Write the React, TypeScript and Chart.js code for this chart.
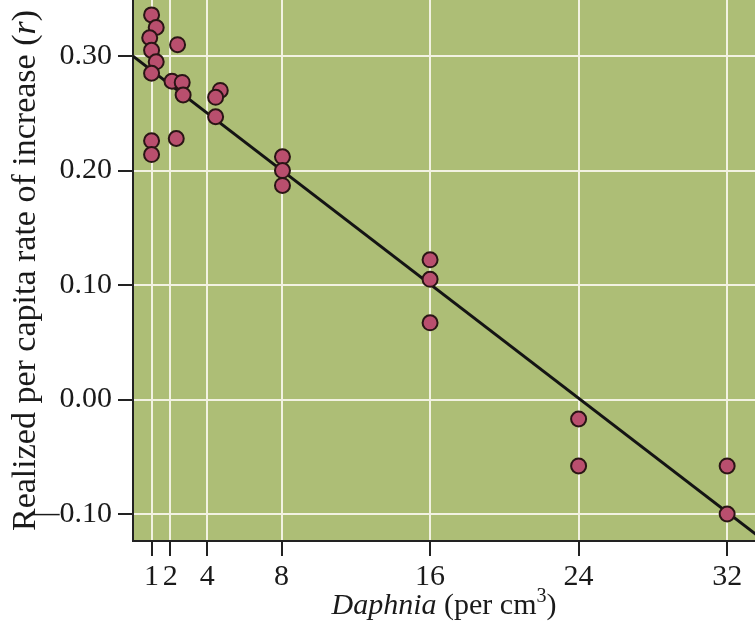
import React, { useEffect, useRef } from "react";
import { Chart, registerables } from "chart.js";

Chart.register(...registerables);

// Observed points: Daphnia density (per cm^3) and realized per capita rate of increase r
const pointX = [1, 1.25, 0.9, 1, 1.25, 1, 2.4, 2.1, 2.65, 2.7, 1, 1, 2.33, 4.7, 4.45, 4.45, 8.05, 8.05, 8.05, 16, 16, 16, 24, 24, 32, 32];
const pointY = [0.336, 0.325, 0.316, 0.305, 0.295, 0.285, 0.31, 0.278, 0.277, 0.266, 0.226, 0.214, 0.228, 0.27, 0.264, 0.247, 0.212, 0.2, 0.187, 0.122, 0.105, 0.067, -0.017, -0.058, -0.058, -0.1];

// Regression line endpoints
const fitX = [0, 34];
const fitY = [0.3, -0.1233];

// Axis ticks
const xTicks = [1, 2, 4, 8, 16, 24, 32];
const yTicks = [-0.1, 0, 0.1, 0.2, 0.3];

const xTitleItalic = "Daphnia";
const xTitleRest = " (per cm";
const xTitleSup = "3";
const xTitleEnd = ")";
const yTitleMain = "Realized per capita rate of increase (";
const yTitleItalic = "r";
const yTitleEnd = ")";

const FONT = '"Liberation Serif", "Times New Roman", serif';

const bgPlugin = {
  id: "plotBg",
  beforeDraw(chart: any) {
    const { ctx, chartArea } = chart;
    ctx.save();
    ctx.fillStyle = "#adbe76";
    ctx.fillRect(chartArea.left, chartArea.top, chartArea.right - chartArea.left, chartArea.bottom - chartArea.top);
    ctx.restore();
  },
};

const titlePlugin = {
  id: "mixedTitles",
  afterDraw(chart: any) {
    const { ctx, chartArea } = chart;
    ctx.save();
    ctx.fillStyle = "#1a1a1a";
    ctx.textBaseline = "alphabetic";
    ctx.textAlign = "left";
    const size = 30;
    const parts = [
      { t: xTitleItalic, f: `italic ${size}px ${FONT}`, dy: 0 },
      { t: xTitleRest, f: `${size}px ${FONT}`, dy: 0 },
      { t: xTitleSup, f: `${Math.round(size * 0.65)}px ${FONT}`, dy: -12 },
      { t: xTitleEnd, f: `${size}px ${FONT}`, dy: 0 },
    ];
    let total = 0;
    for (const p of parts) {
      ctx.font = p.f;
      total += ctx.measureText(p.t).width;
    }
    const cx = (chartArea.left + chartArea.right) / 2;
    let x = cx - total / 2;
    const baseY = 614;
    for (const p of parts) {
      ctx.font = p.f;
      ctx.fillText(p.t, x, baseY + p.dy);
      x += ctx.measureText(p.t).width;
    }

    // Y title, rotated
    const ysize = 34;
    const yparts = [
      { t: yTitleMain, f: `${ysize}px ${FONT}` },
      { t: yTitleItalic, f: `italic ${ysize}px ${FONT}` },
      { t: yTitleEnd, f: `${ysize}px ${FONT}` },
    ];
    let ytotal = 0;
    for (const p of yparts) {
      ctx.font = p.f;
      ytotal += ctx.measureText(p.t).width;
    }
    const cy = (chartArea.top + chartArea.bottom) / 2;
    ctx.translate(35, cy);
    ctx.rotate(-Math.PI / 2);
    let tx = -ytotal / 2;
    for (const p of yparts) {
      ctx.font = p.f;
      ctx.fillText(p.t, tx, 0);
      tx += ctx.measureText(p.t).width;
    }
    ctx.restore();
  },
};

export default function App() {
  const ref = useRef<HTMLCanvasElement | null>(null);
  useEffect(() => {
    document.body.style.margin = "0";
    const canvas = ref.current;
    if (!canvas) return;
    const scatterData = pointX.map((x, i) => ({ x, y: pointY[i] }));
    const lineData = fitX.map((x, i) => ({ x, y: fitY[i] }));
    const chart = new Chart(canvas, {
      type: "scatter",
      data: {
        datasets: [
          {
            type: "line",
            data: lineData,
            borderColor: "#141414",
            borderWidth: 3,
            pointRadius: 0,
            fill: false,
            order: 2,
          } as any,
          {
            type: "scatter",
            data: scatterData,
            backgroundColor: "#b94f6e",
            borderColor: "#2a1515",
            borderWidth: 2,
            pointRadius: 7.5,
            order: 1,
          } as any,
        ],
      },
      options: {
        animation: false,
        responsive: true,
        maintainAspectRatio: false,
        layout: { padding: 0, autoPadding: false },
        plugins: {
          legend: { display: false },
          tooltip: { enabled: false },
        },
        scales: {
          x: {
            type: "linear",
            min: 0,
            max: 33.5,
            afterBuildTicks: (scale: any) => {
              scale.ticks = xTicks.map((v) => ({ value: v }));
            },
            afterFit: (scale: any) => {
              scale.height = 88;
              scale.paddingLeft = 0;
              scale.paddingRight = 0;
            },
            grid: {
              color: "#f2f2e2",
              lineWidth: 2,
              tickColor: "#222",
              tickLength: 15,
              drawTicks: true,
            },
            border: { display: true, color: "#222", width: 2 },
            ticks: {
              autoSkip: false,
              maxRotation: 0,
              color: "#1a1a1a",
              padding: 3,
              font: { family: FONT, size: 30 },
              callback: (v: any) => String(v),
            },
          },
          y: {
            type: "linear",
            min: -0.1236,
            max: 0.349,
            afterBuildTicks: (scale: any) => {
              scale.ticks = yTicks.map((v) => ({ value: v }));
            },
            afterFit: (scale: any) => {
              scale.width = 133;
              scale.paddingTop = 0;
              scale.paddingBottom = 0;
            },
            grid: {
              color: "#f2f2e2",
              lineWidth: 2,
              tickColor: "#222",
              tickLength: 15,
              drawTicks: true,
            },
            border: { display: true, color: "#222", width: 2 },
            ticks: {
              autoSkip: false,
              color: "#1a1a1a",
              padding: 6,
              font: { family: FONT, size: 30 },
              callback: (v: any) => {
                const n = Number(v);
                return n < 0 ? "\u2014" + Math.abs(n).toFixed(2) : n.toFixed(2);
              },
            },
          },
        },
      },
      plugins: [bgPlugin, titlePlugin],
    });
    return () => chart.destroy();
  }, []);
  return (
    <div style={{ width: 755, height: 629, position: "relative", background: "#fff" }}>
      <canvas ref={ref} />
    </div>
  );
}
